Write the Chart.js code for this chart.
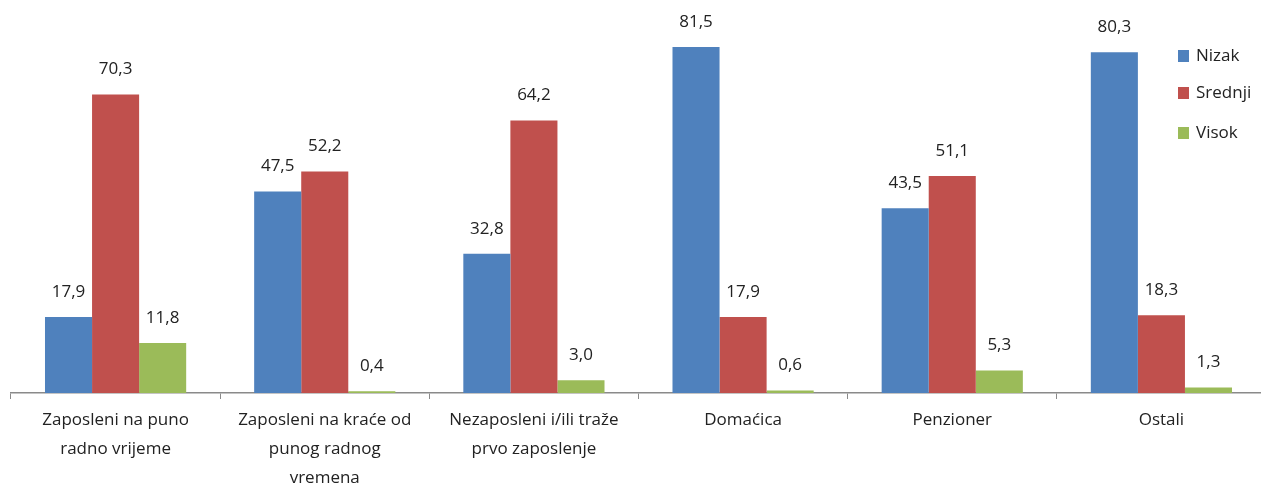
<!DOCTYPE html>
<html>
<head>
<meta charset="utf-8">
<script src="https://cdn.jsdelivr.net/npm/chart.js@4/dist/chart.umd.min.js"></script>
<style>
  html, body { margin: 0; padding: 0; background: #fff; overflow: hidden; }
  #wrap { width: 1266px; height: 483px; }
</style>
</head>
<body>
<div id="wrap"><canvas id="myChart"></canvas></div>
<script>
const categories = [
  ["Zaposleni na puno", "radno vrijeme"],
  ["Zaposleni na kraće od", "punog radnog", "vremena"],
  ["Nezaposleni i/ili traže", "prvo zaposlenje"],
  "Domaćica",
  "Penzioner",
  "Ostali",
];
const nizak = [17.9, 47.5, 32.8, 81.5, 43.5, 80.3];
const srednji = [70.3, 52.2, 64.2, 17.9, 51.1, 18.3];
const visok = [11.8, 0.4, 3.0, 0.6, 5.3, 1.3];
const seriesNames = ["Nizak", "Srednji", "Visok"];

const FONT = "'Open Sans', sans-serif";

const valueLabels = {
  id: "valueLabels",
  afterDatasetsDraw(chart) {
    const ctx = chart.ctx;
    ctx.save();
    ctx.font = "17px " + FONT;
    ctx.fillStyle = "#222";
    ctx.textAlign = "center";
    ctx.textBaseline = "middle";
    chart.data.datasets.forEach((ds, i) => {
      chart.getDatasetMeta(i).data.forEach((bar, j) => {
        ctx.fillText(ds.data[j].toFixed(1).replace(".", ","), bar.x, bar.y - 25);
      });
    });
    ctx.restore();
  },
};

// legend overlaid at the top right, like the original
const sideLegend = {
  id: "sideLegend",
  afterDraw(chart) {
    const ctx = chart.ctx;
    const rows = [56, 93, 133];
    ctx.save();
    ctx.font = "17px " + FONT;
    ctx.textBaseline = "middle";
    ctx.textAlign = "left";
    chart.data.datasets.forEach((ds, i) => {
      ctx.fillStyle = ds.backgroundColor;
      ctx.fillRect(1178, rows[i] - 6, 11, 12);
      ctx.fillStyle = "#222";
      ctx.fillText(ds.label, 1196, rows[i]);
    });
    ctx.restore();
  },
};

new Chart(document.getElementById("myChart").getContext("2d"), {
  type: "bar",
  data: {
    labels: categories,
    datasets: [
      { label: seriesNames[0], data: nizak, backgroundColor: "#4F81BD" },
      { label: seriesNames[1], data: srednji, backgroundColor: "#C0504D" },
      { label: seriesNames[2], data: visok, backgroundColor: "#9BBB59" },
    ],
  },
  options: {
    responsive: true,
    maintainAspectRatio: false,
    animation: false,
    layout: { padding: { left: 11, top: 11, right: 0, bottom: 0 } },
    datasets: {
      bar: { categoryPercentage: 0.675, barPercentage: 1.0 },
    },
    plugins: {
      legend: { display: false },
      tooltip: { enabled: false },
    },
    scales: {
      x: {
        grid: {
          offset: true,
          drawOnChartArea: false,
          drawTicks: true,
          tickLength: 6,
          color: "#8a8a8a",
        },
        border: { color: "#8a8a8a", width: 1.5 },
        ticks: {
          color: "#222",
          font: { family: FONT, size: 17, lineHeight: 1.7 },
          padding: 7,
          maxRotation: 0,
          autoSkip: false,
        },
        afterFit(scale) {
          scale.height = 90;
        },
      },
      y: {
        display: false,
        min: 0,
        max: 90,
      },
    },
  },
  plugins: [valueLabels, sideLegend],
});
</script>
</body>
</html>
